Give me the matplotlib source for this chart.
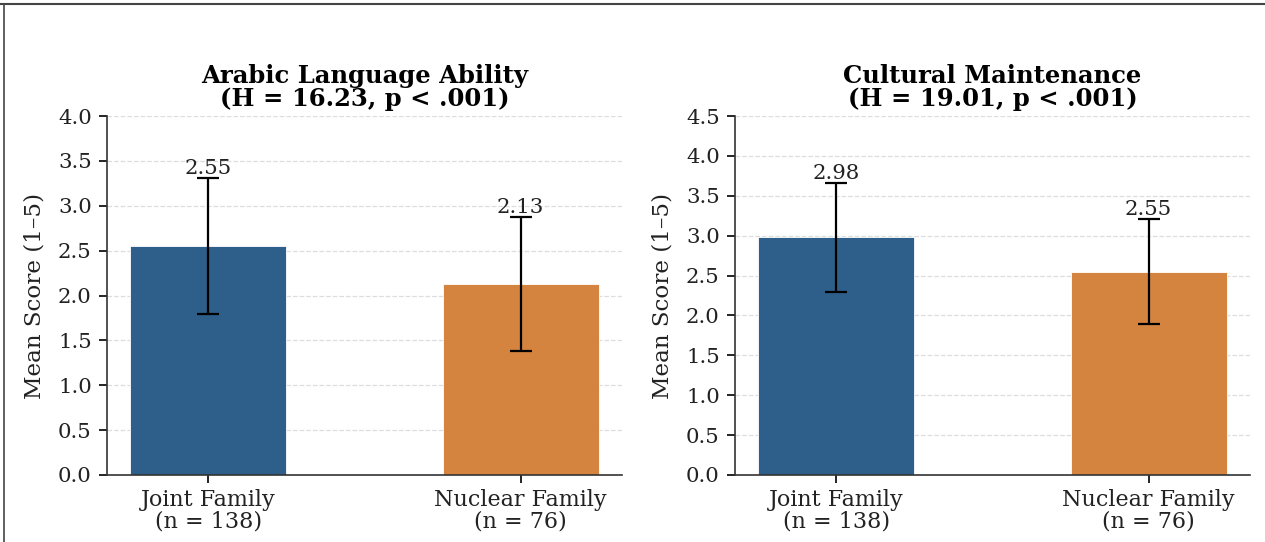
import matplotlib
matplotlib.use("Agg")
import matplotlib.pyplot as plt
from matplotlib.lines import Line2D

plt.rcParams["font.family"] = ["DejaVu Serif"]

groups = ["Joint Family\n(n = 138)", "Nuclear Family\n(n = 76)"]
bar_colors = ["#2E5F8A", "#D4843E"]

titles = ["Arabic Language Ability\n(H = 16.23, p < .001)",
          "Cultural Maintenance\n(H = 19.01, p < .001)"]

arabic_means = [2.55, 2.13]
arabic_sds = [0.76, 0.75]
culture_means = [2.98, 2.55]
culture_sds = [0.68, 0.66]

y_max = [4.0, 4.5]

fig = plt.figure(figsize=(12.65, 5.42), dpi=100)
W, H = 1265, 542

def px_axes(left, right, top, bottom):
    return fig.add_axes([left / W, 1 - bottom / H, (right - left) / W, (bottom - top) / H])

axes = [px_axes(107, 622, 116, 475), px_axes(735, 1250, 116, 475)]
panels = [(arabic_means, arabic_sds), (culture_means, culture_sds)]

for ax, (means, sds), title, ymax in zip(axes, panels, titles, y_max):
    x = list(range(len(groups)))
    ax.bar(x, means, width=0.5, color=bar_colors, edgecolor="white",
           linewidth=0.6, zorder=2)
    ax.errorbar(x, means, yerr=sds, fmt="none", ecolor="black",
                elinewidth=1.6, capsize=8, capthick=1.6, zorder=3)
    for xi, m, s in zip(x, means, sds):
        ax.annotate(f"{m:.2f}", (xi, m + s), xytext=(0, 0),
                    textcoords="offset points", ha="center", va="bottom",
                    fontsize=15.3, color="#222222")
    ax.set_ylim(0, ymax)
    ax.set_yticks([i * 0.5 for i in range(int(ymax / 0.5) + 1)])
    ax.set_xticks(x)
    ax.set_xticklabels(groups, fontsize=16, linespacing=0.95, color="#222222")
    ax.tick_params(axis="y", labelsize=15.3, length=6, width=1.2, pad=5,
                   labelcolor="#222222")
    ax.tick_params(axis="x", length=6, width=1.2, pad=4)
    ax.set_ylabel("Mean Score (1–5)", fontsize=16.6, labelpad=9, color="#222222")
    ax.set_title(title, fontsize=17.5, fontweight="bold", linespacing=0.95, pad=7)
    ax.yaxis.grid(True, linestyle="--", color="#dddddd", linewidth=0.9, zorder=0)
    ax.set_axisbelow(True)
    for side in ("top", "right"):
        ax.spines[side].set_visible(False)
    for side in ("left", "bottom"):
        ax.spines[side].set_linewidth(1.2)
        ax.spines[side].set_color("#333333")

# frame lines along the top and left edges
fig.add_artist(Line2D([0, 1], [1 - 4 / H, 1 - 4 / H], transform=fig.transFigure,
                      color="#444444", linewidth=1.5))
fig.add_artist(Line2D([4 / W, 4 / W], [0, 1 - 4 / H], transform=fig.transFigure,
                      color="#444444", linewidth=1.2))

fig.savefig("out.png", dpi=100)
